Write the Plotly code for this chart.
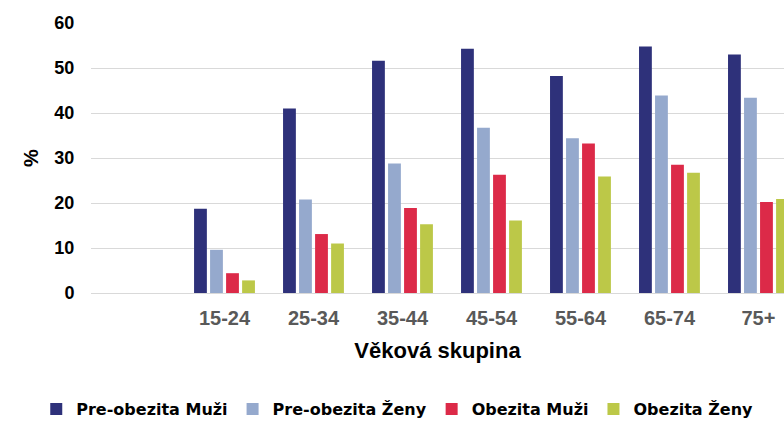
import plotly.graph_objects as go

categories = ["15-24", "25-34", "35-44", "45-54", "55-64", "65-74", "75+"]
pre_muzi = [18.7, 41.0, 51.6, 54.3, 48.2, 54.8, 53.0]
pre_zeny = [9.6, 20.8, 28.8, 36.7, 34.4, 43.9, 43.4]
obez_muzi = [4.4, 13.1, 18.9, 26.3, 33.2, 28.5, 20.2]
obez_zeny = [2.8, 11.0, 15.3, 16.1, 25.9, 26.7, 20.9]

series = [
    ("Pre-obezita Muži", pre_muzi, "#2e317a"),
    ("Pre-obezita Ženy", pre_zeny, "#95a9cd"),
    ("Obezita Muži", obez_muzi, "#dc2a48"),
    ("Obezita Ženy", obez_zeny, "#bcc848"),
]

fig = go.Figure()
for name, vals, color in series:
    fig.add_trace(go.Bar(x=categories, y=vals, name=name, marker_color=color,
                         marker_line_width=0))

fig.update_layout(
    width=784, height=422,
    margin=dict(l=91, r=0, t=23, b=129, autoexpand=False),
    barmode="group", bargap=0.28, bargroupgap=0.2,
    plot_bgcolor="white", paper_bgcolor="white",
    font=dict(family="Liberation Sans, Arial", color="black"),
    legend=dict(orientation="h", x=-0.079, xanchor="left",
                y=-0.43, yanchor="middle",
                font=dict(family="DejaVu Sans", size=16, color="black", weight="bold"),
                itemsizing="constant", tracegroupgap=0, itemwidth=30),
    showlegend=True,
)
fig.update_xaxes(
    type="category", range=[-1.5, 6.287],
    tickfont=dict(family="Liberation Sans, Arial", size=20, color="#595959", weight="bold"),
    ticks="outside", ticklen=7, tickcolor="rgba(0,0,0,0)",
    showline=False, showgrid=False,
    title=dict(text="Věková skupina", font=dict(family="Liberation Sans, Arial", size=22, color="black", weight="bold"), standoff=14),
)
fig.update_yaxes(
    range=[0, 60], dtick=10,
    tickfont=dict(family="Liberation Sans, Arial", size=18, color="black", weight="bold"),
    ticks="outside", ticklen=12, tickcolor="rgba(0,0,0,0)",
    showgrid=True, gridcolor="#d9d9d9", gridwidth=1.3,
    zeroline=True, zerolinecolor="#d9d9d9", zerolinewidth=1.3,
    showline=False,
    title=dict(text="%", font=dict(family="Liberation Sans, Arial", size=20, color="black", weight="bold"), standoff=10),
)

fig.write_html("out.html", config={"displayModeBar": False},
               post_script="document.body.style.margin='0';document.body.style.overflow='hidden';")
